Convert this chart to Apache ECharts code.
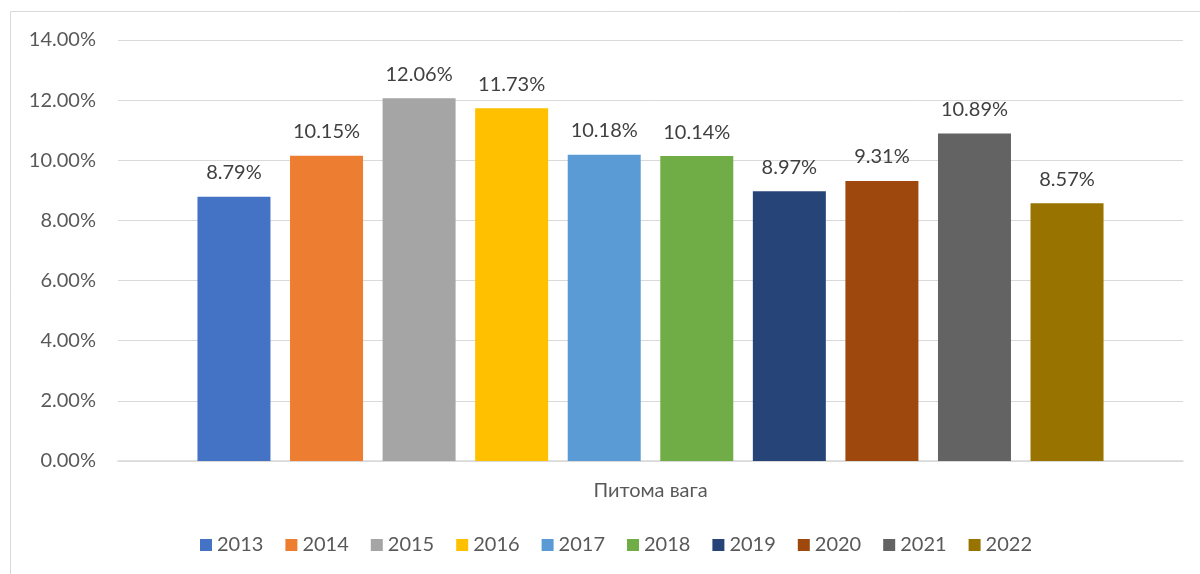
<!DOCTYPE html>
<html>
<head>
<meta charset="utf-8">
<script src="https://cdn.jsdelivr.net/npm/echarts@6/dist/echarts.min.js"></script>
<style>
    html, body { margin: 0; padding: 0; background: #fff; }
    #main { width: 1200px; height: 574px; }
</style>
</head>
<body>
<div id="main"></div>
<script type="text/javascript">
    var categories = ['Питома вага'];
    var years = ['2013', '2014', '2015', '2016', '2017', '2018', '2019', '2020', '2021', '2022'];
    var shares = [8.79, 10.15, 12.06, 11.73, 10.18, 10.14, 8.97, 9.31, 10.89, 8.57];
    var colors = ['#4472C4', '#ED7D31', '#A5A5A5', '#FFC000', '#5B9BD5', '#70AD47', '#264478', '#9E480E', '#636363', '#997300'];

    var chart = echarts.init(document.getElementById('main'));

    var series = [];
    for (var i = 0; i < years.length; i++) {
        series.push({
            name: years[i],
            type: 'bar',
            data: [shares[i]],
            barWidth: 73,
            barGap: '26.8%',
            itemStyle: { color: colors[i] },
            label: {
                show: true,
                position: 'top',
                distance: 14,
                color: '#404040',
                fontFamily: 'Lato',
                fontSize: 20,
                formatter: function (p) { return p.value.toFixed(2) + '%'; }
            }
        });
    }

    var option = {
        animation: false,
        color: colors,
        textStyle: { fontFamily: 'Lato' },
        graphic: [{
            type: 'rect',
            shape: { x: 10.5, y: 11.5, width: 1200, height: 600 },
            style: { fill: 'none', stroke: '#D9D9D9', lineWidth: 1 },
            silent: true
        }],
        grid: {
            left: 118,
            right: 17,
            top: 40,
            bottom: 113
        },
        legend: {
            data: years,
            left: 195,
            top: 530,
            itemWidth: 12,
            itemHeight: 12,
            itemGap: 22,
            icon: 'rect',
            textStyle: { color: '#595959', fontSize: 20, fontFamily: 'Lato' }
        },
        xAxis: {
            type: 'category',
            data: categories,
            axisTick: { show: false },
            axisLine: { lineStyle: { color: '#D9D9D9', width: 1.5 } },
            axisLabel: { color: '#595959', fontSize: 20, fontFamily: 'Lato', margin: 20 }
        },
        yAxis: {
            type: 'value',
            min: 0,
            max: 14,
            interval: 2,
            axisLine: { show: false },
            axisTick: { show: false },
            splitLine: { lineStyle: { color: '#D9D9D9', width: 1 } },
            axisLabel: {
                color: '#595959',
                fontSize: 20,
                fontFamily: 'Lato',
                margin: 22,
                formatter: function (v) { return v.toFixed(2) + '%'; }
            }
        },
        series: series
    };
    chart.setOption(option);
</script>
</body>
</html>
